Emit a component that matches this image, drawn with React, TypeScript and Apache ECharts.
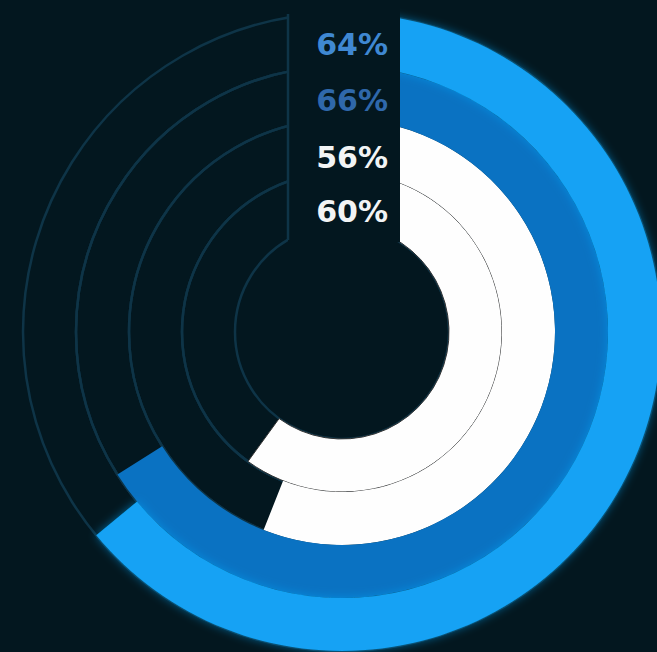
import { useEffect, useRef } from 'react';
import * as echarts from 'echarts';

// rings listed inner → outer
const rings = ['Ring D', 'Ring C', 'Ring B', 'Ring A'];
const values = [60, 56, 66, 64];

const ringColors = ['#fefefe', '#fefefe', '#0a72c2', '#12a2f4'];
const labelColors = ['#f2f4f5', '#f2f4f5', '#2f68ab', '#3f88d2'];
const labelY = [211, 157, 100, 44];

export default function App() {
  const ref = useRef<HTMLDivElement>(null);
  useEffect(() => {
    const chart = echarts.init(ref.current!, null, { renderer: 'svg' });
    const bg = '#03171f';
    const track = '#0e3447';
    chart.setOption({
      animation: false,
      backgroundColor: bg,
      polar: { center: [342, 332], radius: [107, 319] },
      angleAxis: { type: 'value', min: 0, max: 100, startAngle: 90, clockwise: true, show: false },
      radiusAxis: { type: 'category', data: rings, show: false },
      series: [
        {
          type: 'bar',
          coordinateSystem: 'polar',
          barCategoryGap: '0%',
          showBackground: true,
          backgroundStyle: { color: 'rgba(0,0,0,0)', borderColor: track, borderWidth: 2.5 },
          data: values.map((v, i) => ({
            value: v,
            itemStyle: {
              color: ringColors[i],
              borderColor: i === 0 ? '#333' : ringColors[i],
              borderWidth: i === 0 ? 1 : 0,
              shadowBlur: i === 3 ? 10 : 0,
              shadowColor: i === 3 ? 'rgba(18,162,244,0.55)' : 'transparent',
            },
          })),
        },
      ],
      graphic: [
        { type: 'rect', z: 100, shape: { x: 288, y: 0, width: 112, height: 242 }, style: { fill: bg } },
        { type: 'line', z: 101, shape: { x1: 288, y1: 14, x2: 288, y2: 240 }, style: { stroke: track, lineWidth: 2.5 } },
        ...values.map((v, i) => ({
          type: 'text',
          z: 102,
          style: {
            text: `${v}%`,
            x: 388,
            y: labelY[i],
            fill: labelColors[i],
            font: 'bold 30px "DejaVu Sans"',
            textAlign: 'right',
            textVerticalAlign: 'middle',
          },
        })),
      ],
    });
    return () => chart.dispose();
  }, []);
  return <div ref={ref} style={{ position: 'fixed', left: 0, top: 0, width: 657, height: 652 }} />;
}
